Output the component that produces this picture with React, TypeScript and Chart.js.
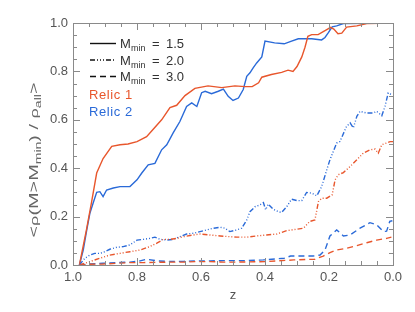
import React, { useEffect, useRef } from 'react';
import { Chart, registerables } from 'chart.js';

Chart.register(...registerables);

const RED = '#e8562c';
const BLUE = '#2a6ad8';
const AXIS = '#8a8a8a';
const TEXT = '#555555';
const FONT = '"Liberation Sans", Arial, sans-serif';

// [z, <rho(M>Mmin)/rho_all>]
const relic1M15: [number, number][] = [
  [0.98, 0], [0.958, 0.145], [0.942, 0.26], [0.926, 0.38], [0.906, 0.44], [0.879, 0.49],
  [0.853, 0.497], [0.828, 0.5], [0.8, 0.51], [0.77, 0.53], [0.75, 0.56], [0.723, 0.6],
  [0.697, 0.65], [0.676, 0.66], [0.65, 0.7], [0.619, 0.73], [0.578, 0.74], [0.535, 0.733],
  [0.494, 0.74], [0.4625, 0.737], [0.44, 0.737], [0.42, 0.753], [0.41, 0.776], [0.38, 0.787],
  [0.348, 0.796], [0.328, 0.805], [0.3125, 0.8], [0.3, 0.82], [0.285, 0.86], [0.275, 0.9],
  [0.266, 0.945], [0.254, 0.952], [0.234, 0.952], [0.207, 0.973], [0.195, 0.982], [0.185, 0.975],
  [0.172, 0.956], [0.16, 0.958], [0.145, 0.983], [0.113, 0.988], [0.082, 0.998], [0.0, 1.0],
];

const relic2M15: [number, number][] = [
  [0.98, 0], [0.968, 0.062], [0.957, 0.145], [0.947, 0.215], [0.937, 0.256], [0.926, 0.3],
  [0.916, 0.303], [0.906, 0.283], [0.895, 0.31], [0.874, 0.318], [0.853, 0.324], [0.822, 0.324],
  [0.8, 0.352], [0.785, 0.38], [0.765, 0.414], [0.744, 0.42], [0.723, 0.476], [0.707, 0.497],
  [0.687, 0.546], [0.666, 0.593], [0.645, 0.655], [0.629, 0.67], [0.613, 0.655], [0.598, 0.712],
  [0.587, 0.718], [0.567, 0.708], [0.546, 0.718], [0.53, 0.727], [0.515, 0.697], [0.5, 0.68],
  [0.483, 0.69], [0.468, 0.725], [0.457, 0.78], [0.447, 0.794], [0.437, 0.815], [0.426, 0.835],
  [0.41, 0.86], [0.4, 0.925], [0.37, 0.918], [0.34, 0.914], [0.317, 0.925], [0.296, 0.935],
  [0.254, 0.935], [0.223, 0.93], [0.2125, 0.94], [0.202, 0.96], [0.19, 0.984], [0.176, 0.988],
  [0.155, 0.998], [0.0, 1.0],
];

const relic1M20: [number, number][] = [
  [0.98, 0], [0.947, 0.014], [0.916, 0.028], [0.885, 0.041], [0.853, 0.048], [0.822, 0.055],
  [0.79, 0.062], [0.76, 0.076], [0.738, 0.09], [0.718, 0.106], [0.697, 0.106], [0.676, 0.11],
  [0.655, 0.117], [0.624, 0.124], [0.603, 0.128], [0.572, 0.124], [0.54, 0.12], [0.51, 0.117],
  [0.488, 0.115], [0.457, 0.115], [0.426, 0.12], [0.395, 0.124], [0.363, 0.128], [0.332, 0.142],
  [0.3, 0.148], [0.28, 0.152], [0.26, 0.18], [0.244, 0.186], [0.233, 0.262], [0.223, 0.276],
  [0.207, 0.276], [0.19, 0.29], [0.181, 0.352], [0.171, 0.373], [0.155, 0.382], [0.134, 0.407],
  [0.113, 0.435], [0.093, 0.462], [0.072, 0.476], [0.056, 0.479], [0.046, 0.462], [0.035, 0.497],
  [0.02, 0.504], [0.009, 0.51], [0.0, 0.51],
];

const relic2M20: [number, number][] = [
  [0.98, 0], [0.963, 0.028], [0.947, 0.041], [0.932, 0.048], [0.916, 0.048], [0.9, 0.055],
  [0.885, 0.065], [0.864, 0.073], [0.843, 0.076], [0.822, 0.083], [0.8, 0.103], [0.78, 0.106],
  [0.76, 0.11], [0.744, 0.115], [0.728, 0.106], [0.707, 0.103], [0.687, 0.106], [0.666, 0.117],
  [0.645, 0.128], [0.624, 0.131], [0.603, 0.138], [0.582, 0.145], [0.561, 0.152], [0.54, 0.156],
  [0.525, 0.152], [0.51, 0.138], [0.488, 0.145], [0.473, 0.152], [0.457, 0.186], [0.447, 0.22],
  [0.431, 0.241], [0.416, 0.248], [0.405, 0.258], [0.398, 0.228], [0.39, 0.252], [0.374, 0.23],
  [0.358, 0.22], [0.348, 0.217], [0.332, 0.241], [0.317, 0.272], [0.3, 0.266], [0.285, 0.266],
  [0.27, 0.3], [0.254, 0.297], [0.238, 0.286], [0.223, 0.324], [0.207, 0.393], [0.197, 0.435],
  [0.176, 0.504], [0.166, 0.51], [0.145, 0.573], [0.134, 0.587], [0.124, 0.566], [0.113, 0.614],
  [0.103, 0.635], [0.082, 0.628], [0.062, 0.628], [0.051, 0.635], [0.035, 0.617], [0.025, 0.655],
  [0.015, 0.711], [0.004, 0.704],
];

const relic1M30: [number, number][] = [
  [0.98, 0], [0.947, 0.003], [0.906, 0.004], [0.864, 0.007], [0.822, 0.01], [0.78, 0.01],
  [0.738, 0.011], [0.697, 0.012], [0.655, 0.012], [0.613, 0.014], [0.572, 0.014], [0.53, 0.012],
  [0.488, 0.012], [0.4, 0.014], [0.31, 0.021], [0.244, 0.024], [0.218, 0.037], [0.197, 0.051],
  [0.176, 0.062], [0.145, 0.069], [0.113, 0.08], [0.082, 0.092], [0.051, 0.103], [0.02, 0.11],
  [0.005, 0.115],
];

const relic2M30: [number, number][] = [
  [0.98, 0], [0.947, 0.004], [0.906, 0.007], [0.864, 0.01], [0.822, 0.012], [0.79, 0.017],
  [0.77, 0.024], [0.738, 0.017], [0.697, 0.015], [0.655, 0.015], [0.613, 0.017], [0.572, 0.017],
  [0.53, 0.018], [0.488, 0.018], [0.457, 0.018], [0.405, 0.021], [0.34, 0.028], [0.32, 0.037],
  [0.25, 0.037], [0.228, 0.041], [0.2125, 0.062], [0.197, 0.12], [0.176, 0.145], [0.155, 0.12],
  [0.134, 0.124], [0.103, 0.152], [0.072, 0.175], [0.051, 0.166], [0.03, 0.138], [0.02, 0.14],
  [0.01, 0.18], [0.002, 0.183],
];

const mMinValues = ['1.5', '2.0', '3.0'];
const relicNames = ['Relic 1', 'Relic 2'];
const xTitle = 'z';

const SOLID: number[] = [];
const DASHDOT = [5, 2, 1, 2, 1, 2, 1, 2];
const DASHED = [6, 4];
const STYLES = [SOLID, DASHDOT, DASHED];

const toXY = (arr: [number, number][]) => arr.map(([x, y]) => ({ x, y }));

const framePlugin = {
  id: 'frame',
  afterDraw(chart: any) {
    const { ctx, chartArea: a, scales } = chart;
    const xs = scales.x;
    const ys = scales.y;
    ctx.save();
    ctx.strokeStyle = AXIS;
    ctx.lineWidth = 1;
    ctx.setLineDash([]);
    ctx.strokeRect(Math.round(a.left) + 0.5, Math.round(a.top) + 0.5, Math.round(a.right - a.left), Math.round(a.bottom - a.top));
    ctx.beginPath();
    for (let i = 0; i <= 20; i++) {
      const v = i * 0.05;
      const major = i % 4 === 0;
      const len = major ? 7 : 4;
      const px = Math.round(xs.getPixelForValue(v)) + 0.5;
      ctx.moveTo(px, a.bottom); ctx.lineTo(px, a.bottom - len);
      ctx.moveTo(px, a.top); ctx.lineTo(px, a.top + len);
      const py = Math.round(ys.getPixelForValue(v)) + 0.5;
      ctx.moveTo(a.left, py); ctx.lineTo(a.left + len, py);
      ctx.moveTo(a.right, py); ctx.lineTo(a.right - len, py);
    }
    ctx.stroke();

    // x title
    ctx.fillStyle = TEXT;
    ctx.font = `13px ${FONT}`;
    ctx.textAlign = 'center';
    ctx.textBaseline = 'middle';
    ctx.fillText(xTitle, 233, 295);

    // y title (rotated, with subscripts)
    const pieces: [string, number, number][] = [
      ['<', 12, 0], ['\u03c1', 11, 0], ['(M>M', 12, 0], ['min', 8.5, 3], [') / ', 12, 0],
      ['\u03c1', 11, 0], ['all', 8.5, 3], ['>', 12, 0],
    ];
    let total = 0;
    const widths: number[] = [];
    pieces.forEach(([t, s]) => {
      ctx.font = `${s}px ${FONT}`;
      const w = ctx.measureText(t).width;
      widths.push(w);
      total += w;
    });
    const target = 155;
    ctx.save();
    ctx.fillStyle = '#666666';
    ctx.translate(38, 160);
    ctx.rotate(-Math.PI / 2);
    ctx.scale(target / total, 1);
    ctx.textAlign = 'left';
    ctx.textBaseline = 'alphabetic';
    let cx = -total / 2;
    pieces.forEach(([t, s, dy], i) => {
      ctx.font = `${s}px ${FONT}`;
      ctx.fillText(t, cx, dy);
      cx += widths[i];
    });
    ctx.restore();

    // legend
    const rowsY = [43.5, 60, 76.5];
    ctx.strokeStyle = '#111111';
    ctx.lineWidth = 1.4;
    rowsY.forEach((y, i) => {
      ctx.setLineDash(STYLES[i]);
      ctx.beginPath();
      ctx.moveTo(90, y);
      ctx.lineTo(116, y);
      ctx.stroke();
      ctx.setLineDash([]);
      ctx.fillStyle = '#333333';
      ctx.textAlign = 'left';
      ctx.textBaseline = 'alphabetic';
      ctx.font = `13px ${FONT}`;
      ctx.fillText('M', 120, y + 4.5);
      ctx.font = `9px ${FONT}`;
      ctx.fillText('min', 131, y + 7.5);
      ctx.font = `13px ${FONT}`;
      ctx.fillText('=', 152, y + 4.5);
      ctx.fillText(mMinValues[i], 166, y + 4.5);
    });
    ctx.font = `13px ${FONT}`;
    (ctx as any).letterSpacing = '0.6px';
    ctx.fillStyle = RED;
    ctx.fillText(relicNames[0], 89, 99);
    ctx.fillStyle = BLUE;
    ctx.fillText(relicNames[1], 89, 115.5);
    (ctx as any).letterSpacing = '0px';
    ctx.restore();
  },
};

export default function App() {
  const ref = useRef<HTMLCanvasElement | null>(null);
  useEffect(() => {
    if (!ref.current) return;
    const ds = (data: [number, number][], color: string, dash: number[]) => ({
      data: toXY(data),
      borderColor: color,
      borderWidth: 1.4,
      borderDash: dash,
      pointRadius: 0,
      fill: false,
      tension: 0,
    });
    const chart = new Chart(ref.current, {
      type: 'line',
      data: {
        datasets: [
          ds(relic1M30, RED, DASHED),
          ds(relic2M30, BLUE, DASHED),
          ds(relic1M20, RED, DASHDOT),
          ds(relic2M20, BLUE, DASHDOT),
          ds(relic1M15, RED, SOLID),
          ds(relic2M15, BLUE, SOLID),
        ],
      },
      options: {
        animation: false,
        responsive: false,
        devicePixelRatio: 1,
        layout: { padding: { top: 23, right: 22, left: 0, bottom: 0 } },
        plugins: { legend: { display: false }, tooltip: { enabled: false } },
        scales: {
          x: {
            type: 'linear',
            reverse: true,
            min: 0,
            max: 1,
            grid: { display: false, drawTicks: false },
            border: { display: false },
            ticks: {
              stepSize: 0.2,
              padding: 5,
              color: TEXT,
              font: { family: FONT, size: 13 },
              maxRotation: 0,
              callback: (v: any) => Number(v).toFixed(1),
            },
            afterFit: (s: any) => { s.height = 47; },
          },
          y: {
            type: 'linear',
            min: 0,
            max: 1,
            grid: { display: false, drawTicks: false },
            border: { display: false },
            ticks: {
              stepSize: 0.2,
              padding: 5,
              color: TEXT,
              font: { family: FONT, size: 13 },
              callback: (v: any) => Number(v).toFixed(1),
            },
            afterFit: (s: any) => { s.width = 73; },
          },
        },
      } as any,
      plugins: [framePlugin],
    });
    return () => chart.destroy();
  }, []);
  return (
    <div style={{ position: 'absolute', left: 0, top: 0, width: 415, height: 312, background: '#fff' }}>
      <canvas ref={ref} width={415} height={312} style={{ width: 415, height: 312, display: 'block' }} />
    </div>
  );
}
